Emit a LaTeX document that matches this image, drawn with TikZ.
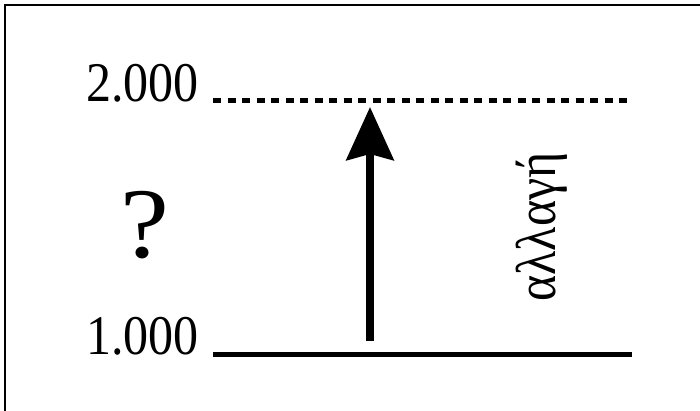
\documentclass[tikz,border=0pt]{standalone}
\usepackage{fontspec}
\usepackage{graphicx}
\setmainfont{Liberation Serif}
\usetikzlibrary{arrows.meta}
\newcommand{\tallbox}[1]{\scalebox{1}[1.12]{#1}}
\begin{document}
\begin{tikzpicture}[x=1pt,y=-1pt,
  lbl/.style={inner sep=0pt,font=\fontsize{50}{60}\selectfont},
  big/.style={inner sep=0pt,font=\fontsize{100}{120}\selectfont},
  frameline/.style={line width=2.5pt},
  levelhi/.style={line width=5pt,dash pattern=on 8pt off 6.5pt},
  levello/.style={line width=5pt},
  uparrow/.style={line width=8pt,-{Stealth[length=53pt,width=47pt,inset=6pt]}}]
\useasboundingbox (0,0) rectangle (700,411);
\draw[frameline] (5,430) -- (5,5) -- (720,5);
\coordinate (h1) at (213,101);
\coordinate (h2) at (632,101);
\coordinate (g1) at (213,354.5);
\coordinate (g2) at (632,354.5);
\coordinate (a0) at (370,341);
\coordinate (a1) at (370,107);
\node[lbl,anchor=base east] (t2) at (199,102) {\tallbox{2.000}};
\node[lbl,anchor=base east] (t1) at (199,354) {\tallbox{1.000}};
\node[big,anchor=base] (q) at (145,258) {\scalebox{1.1}[1]{?}};
\node[lbl,rotate=90,anchor=base] (g) at (555,227) {\tallbox{αλλαγή}};
\draw[levelhi] (h1) -- (h2);
\draw[levello] (g1) -- (g2);
\draw[uparrow] (a0) -- (a1);
\end{tikzpicture}
\end{document}
